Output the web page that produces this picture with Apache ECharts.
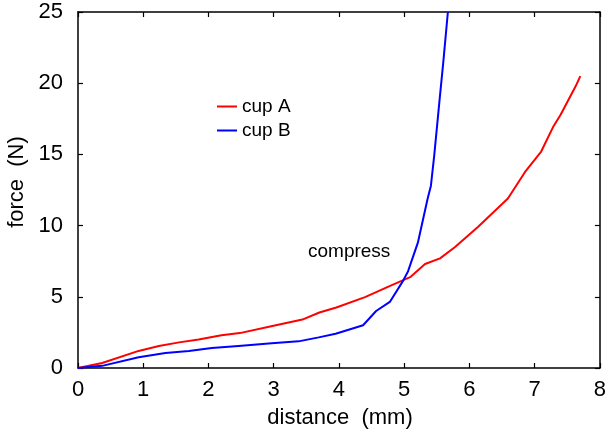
<!DOCTYPE html>
<html><head><meta charset="utf-8">
<script src="https://cdn.jsdelivr.net/npm/echarts@6/dist/echarts.min.js"></script>
<style>html,body{margin:0;padding:0;background:#fff}#c{width:609px;height:435px}</style>
</head><body><div id="c"></div>
<script>
const xTicks = [0,1,2,3,4,5,6,7,8];
const yTicks = [0,5,10,15,20,25];
const seriesNames = ['cup A','cup B'];
const redX = [0, 0.37, 0.93, 1.24, 1.55, 1.85, 2.2, 2.48, 2.98, 3.44, 3.7, 3.96, 4.4, 4.75, 5.1, 5.32, 5.55, 5.78, 6.13, 6.59, 6.85, 7.1, 7.28, 7.4, 7.63, 7.7];
const redY = [0, 0.35, 1.2, 1.55, 1.8, 2.0, 2.3, 2.45, 2.95, 3.4, 3.9, 4.25, 4.98, 5.7, 6.4, 7.3, 7.7, 8.5, 9.9, 11.9, 13.75, 15.2, 16.9, 17.8, 19.8, 20.5];
const blueX = [0, 0.37, 0.93, 1.34, 1.7, 2.05, 2.46, 2.97, 3.38, 3.69, 3.95, 4.37, 4.57, 4.78, 4.98, 5.06, 5.21, 5.36, 5.41, 5.46, 5.54, 5.6, 5.67];
const blueY = [0, 0.15, 0.75, 1.05, 1.19, 1.4, 1.55, 1.73, 1.87, 2.15, 2.4, 3.0, 4.0, 4.64, 6.1, 6.8, 8.8, 11.9, 12.8, 14.9, 18.7, 21.5, 25];

const F = 'Liberation Sans, Arial, sans-serif';
const chart = echarts.init(document.getElementById('c'), null, {renderer:'canvas'});
const lineStyleAxis = {color:'#000', width:1.5};
const baseX = {type:'value', min:0, max:8, interval:1, splitLine:{show:false}, axisLine:{onZero:false, lineStyle:lineStyleAxis}, axisTick:{inside:true, length:5, lineStyle:{color:'#000', width:1.2}}};
const baseY = {type:'value', min:0, max:25, interval:5, splitLine:{show:false}, axisLine:{onZero:false, lineStyle:lineStyleAxis}, axisTick:{inside:true, length:5, lineStyle:{color:'#000', width:1.2}}};
chart.setOption({
  animation:false,
  grid:{left:78, right:8, top:12, bottom:67, containLabel:false},
  xAxis:[
    Object.assign({}, baseX, {position:'bottom', axisLabel:{color:'#000', fontSize:22, fontFamily:F, margin:11, formatter:v=>String(v)}}),
    Object.assign({}, baseX, {position:'top', axisLabel:{show:false}})
  ],
  yAxis:[
    Object.assign({}, baseY, {position:'left', axisLabel:{color:'#000', fontSize:22, fontFamily:F, margin:15, formatter:v=>String(v)}}),
    Object.assign({}, baseY, {position:'right', axisLabel:{show:false}})
  ],
  legend:{
    data:seriesNames, orient:'vertical', left:212, top:92, icon:'rect', itemWidth:20, itemHeight:2, itemGap:5,
    textStyle:{fontFamily:F, fontSize:19, color:'#000', padding:[0,0,0,0]}
  },
  graphic:[
    {type:'text', left:308, top:242, style:{text:'compress', font:'19px '+F, fill:'#000'}},
    {type:'text', x:340, y:418, style:{text:'distance  (mm)', font:'22px '+F, fill:'#000', textAlign:'center', textVerticalAlign:'middle'}},
    {type:'text', x:17, y:182, rotation:Math.PI/2, style:{text:'force  (N)', font:'22px '+F, fill:'#000', textAlign:'center', textVerticalAlign:'middle'}}
  ],
  series:[
    {name:seriesNames[0], type:'line', symbol:'none', clip:true, color:'#ff0000', lineStyle:{width:2, color:'#ff0000'}, data:redX.map((x,i)=>[x,redY[i]])},
    {name:seriesNames[1], type:'line', symbol:'none', clip:true, color:'#0000ff', lineStyle:{width:2, color:'#0000ff'}, data:blueX.map((x,i)=>[x,blueY[i]])}
  ]
});
</script></body></html>
